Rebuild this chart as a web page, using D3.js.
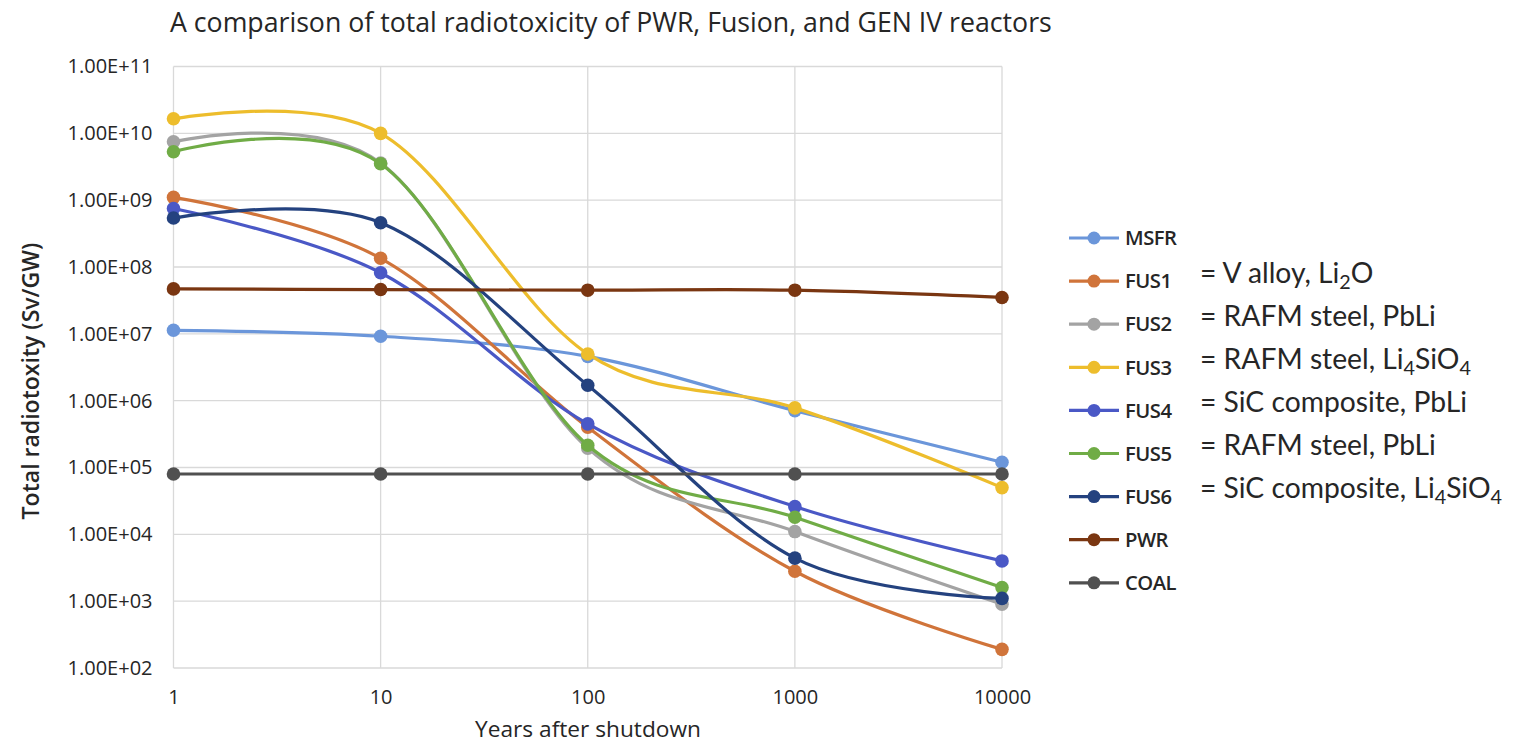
<!DOCTYPE html>
<html>
<head>
<meta charset="utf-8">
<script src="https://cdn.jsdelivr.net/npm/d3@7"></script>
<style>
  html, body { margin: 0; padding: 0; background: #fff; }
  svg { display: block; }
  text { fill: #262626; }
</style>
</head>
<body>
<svg id="chart" width="1516" height="746"></svg>
<script>
// Years after shutdown (category axis)
const years = ["1", "10", "100", "1000", "10000"];

// Total radiotoxicity, Sv/GW, one array per reactor
const msfr = [1.13e7, 9.2e6, 4.6e6, 7.1e5, 1.2e5];
const fus1 = [1.1e9, 1.35e8, 4.0e5, 2.8e3, 1.9e2];
const fus2 = [7.5e9, 3.6e9, 1.95e5, 1.1e4, 9.0e2];
const fus3 = [1.65e10, 1.0e10, 5.0e6, 7.8e5, 5.0e4];
const fus4 = [7.5e8, 8.2e7, 4.5e5, 2.6e4, 4.0e3];
const fus5 = [5.3e9, 3.5e9, 2.15e5, 1.8e4, 1.6e3];
const fus6 = [5.4e8, 4.6e8, 1.7e6, 4.4e3, 1.1e3];
const pwr  = [4.7e7, 4.6e7, 4.5e7, 4.5e7, 3.5e7];
const coal = [8.0e4, 8.0e4, 8.0e4, 8.0e4, 8.0e4];

const seriesNames  = ["MSFR", "FUS1", "FUS2", "FUS3", "FUS4", "FUS5", "FUS6", "PWR", "COAL"];
const seriesValues = [msfr, fus1, fus2, fus3, fus4, fus5, fus6, pwr, coal];
const seriesColors = ["#6b96da", "#d0743a", "#a3a3a3", "#edbd2c", "#4a58c6", "#70ac46", "#24427f", "#7a3611", "#505050"];

// Blanket descriptions shown beside the fusion entries: text runs, true = subscript
const blanketNotes = [
  null,
  [["= V alloy, Li", false], ["2", true], ["O", false]],
  [["= RAFM steel, PbLi", false]],
  [["= RAFM steel, Li", false], ["4", true], ["SiO", false], ["4", true]],
  [["= SiC composite, PbLi", false]],
  [["= RAFM steel, PbLi", false]],
  [["= SiC composite, Li", false], ["4", true], ["SiO", false], ["4", true]],
  null,
  null
];

const yTicks = [1e2, 1e3, 1e4, 1e5, 1e6, 1e7, 1e8, 1e9, 1e10, 1e11];

const title = "A comparison of total radiotoxicity of PWR, Fusion, and GEN IV reactors";
const yTitle = "Total radiotoxity (Sv/GW)";
const xTitle = "Years after shutdown";

const FONT = "'Open Sans', 'Liberation Sans', sans-serif";
const NOTE_FONT = "'Lato', 'Open Sans', sans-serif";

const svg = d3.select("#chart");

const plot = { left: 173.5, right: 1002, top: 66.5, bottom: 668 };

const x = d3.scalePoint().domain(years).range([plot.left, plot.right]);
const y = d3.scaleLog().domain([1e2, 1e11]).range([plot.bottom, plot.top]);

// Font size at which a text element renders `width` pixels wide
function fitSize(sel, width) {
  const size = parseFloat(sel.attr("font-size"));
  return size * width / sel.node().getComputedTextLength();
}
function fitText(sel, width) {
  const s = fitSize(sel, width);
  sel.attr("font-size", s);
  return s;
}

function sci(d) {
  const e = Math.round(Math.log10(d));
  const m = d / Math.pow(10, e);
  const es = (e < 0 ? "-" : "+") + String(Math.abs(e)).padStart(2, "0");
  return m.toFixed(2) + "E" + es;
}

// Gridlines
const grid = svg.append("g").attr("stroke", "#d9d9d9").attr("stroke-width", 1.3);
grid.selectAll("line.h").data(yTicks).join("line")
  .attr("x1", plot.left).attr("x2", plot.right)
  .attr("y1", d => y(d)).attr("y2", d => y(d));
grid.selectAll("line.v").data(years).join("line")
  .attr("x1", d => x(d)).attr("x2", d => x(d))
  .attr("y1", plot.top).attr("y2", plot.bottom);

// Y axis labels
const yAxis = svg.append("g")
  .attr("transform", `translate(${plot.left},0)`)
  .call(d3.axisLeft(y).tickValues(yTicks).tickFormat(sci).tickSize(0).tickPadding(21));
yAxis.select(".domain").remove();
const yLabels = yAxis.selectAll("text").attr("font-family", FONT).attr("font-size", 17.5).attr("fill", "#262626");
const tickSize = fitSize(yLabels.filter(d => d === 1e11), 85);
yLabels.attr("font-size", tickSize);

// X axis labels
const xAxis = svg.append("g")
  .attr("transform", `translate(0,${plot.bottom})`)
  .call(d3.axisBottom(x).tickSize(0).tickPadding(22));
xAxis.select(".domain").remove();
xAxis.selectAll("text").attr("font-family", FONT).attr("font-size", tickSize).attr("fill", "#262626");

// Series lines (Excel-style smoothed) and markers
const line = d3.line()
  .x((d, i) => x(years[i]))
  .y(d => y(d))
  .curve(d3.curveCardinal.tension(0));

const series = svg.append("g").selectAll("g").data(seriesValues).join("g");
series.append("path")
  .attr("d", d => line(d))
  .attr("fill", "none")
  .attr("stroke", (d, i) => seriesColors[i])
  .attr("stroke-width", 3.2)
  .attr("stroke-linejoin", "round");
series.each(function (vals, i) {
  d3.select(this).selectAll("circle").data(vals).join("circle")
    .attr("cx", (d, j) => x(years[j]))
    .attr("cy", d => y(d))
    .attr("r", 6.8)
    .attr("fill", seriesColors[i]);
});

// Title
const t = svg.append("text")
  .attr("x", 170).attr("y", 32)
  .attr("font-family", FONT).attr("font-size", 22)
  .text(title);
fitText(t, 882);

// Axis titles
const yt = svg.append("text")
  .attr("transform", "translate(39,381) rotate(-90)")
  .attr("text-anchor", "middle")
  .attr("font-family", FONT).attr("font-size", 19).attr("font-weight", 600)
  .text(yTitle);
fitText(yt, 277);

const xt = svg.append("text")
  .attr("x", 588).attr("y", 737)
  .attr("text-anchor", "middle")
  .attr("font-family", FONT).attr("font-size", 18)
  .text(xTitle);
fitText(xt, 226);

// Legend
const legend = svg.append("g");
const rowY = i => 238 + i * 43.1;
const legendTexts = [];
seriesNames.forEach((name, i) => {
  const g = legend.append("g").attr("transform", `translate(0,${rowY(i)})`);
  g.append("line").attr("x1", 1069).attr("x2", 1119).attr("y1", 0).attr("y2", 0)
    .attr("stroke", seriesColors[i]).attr("stroke-width", 3.2);
  g.append("circle").attr("cx", 1094).attr("cy", 0).attr("r", 6.5).attr("fill", seriesColors[i]);
  legendTexts.push(g.append("text").attr("x", 1125).attr("y", 0).attr("dy", "0.36em")
    .attr("font-family", FONT).attr("font-size", 16.5).attr("font-weight", 600)
    .attr("letter-spacing", -0.5)
    .text(name));
});
const legendSize = fitSize(legendTexts[0], 51);
legendTexts.forEach(s => s.attr("font-size", legendSize));

// Blanket notes beside the fusion entries
const notes = [];
blanketNotes.forEach((parts, i) => {
  if (!parts) return;
  const tx = svg.append("text")
    .attr("x", 1200).attr("y", rowY(i) - 8).attr("dy", "0.35em")
    .attr("font-family", NOTE_FONT).attr("font-size", 22)
    .attr("fill", "#1a1a1a");
  parts.forEach(([s, sub], k) => {
    const ts = tx.append("tspan").text(s);
    if (sub) ts.attr("font-size", "70%").attr("dy", "0.3em");
    else if (k > 0) ts.attr("dy", "-0.21em");
  });
  notes.push(tx);
});
const noteSize = fitSize(notes[notes.length - 1], 302);
notes.forEach(n => n.attr("font-size", noteSize));
</script>
</body>
</html>
